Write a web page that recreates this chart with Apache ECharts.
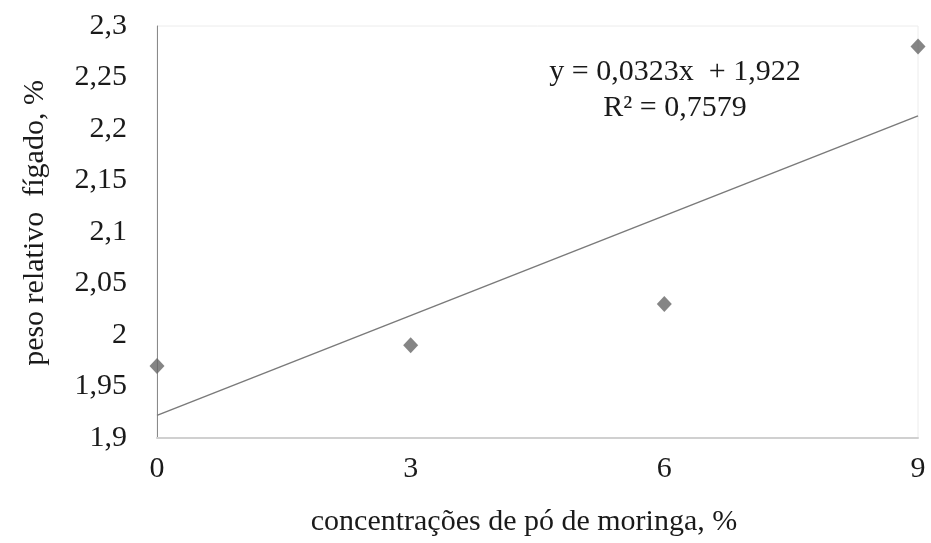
<!DOCTYPE html>
<html><head><meta charset="utf-8">
<script src="https://cdn.jsdelivr.net/npm/echarts@6/dist/echarts.min.js"></script>
<style>html,body{margin:0;padding:0;background:#fff}#c{width:931px;height:543px}</style>
</head><body><div id="c"></div>
<script>
var xValues = [0, 3, 6, 9];
var yValues = [1.97, 1.99, 2.03, 2.28];
var trendX = [0, 9];
var trendY = [1.922, 2.2127];
var xTicks = [0, 3, 6, 9];
var equationLines = ['y = 0,0323x  + 1,922', 'R² = 0,7579'];
var xTitle = 'concentrações de pó de moringa, %';
var yTitle = 'peso relativo  fígado, %';

var chart = echarts.init(document.getElementById('c'));
var font = 'Liberation Serif, Times New Roman, serif';
chart.setOption({
  animation: false,
  grid: {left: 157, right: 13, top: 26, bottom: 105, show: true, borderColor: '#ececec', borderWidth: 1,
         containLabel: false, outerBoundsMode: 'none'},
  xAxis: {
    type: 'value', min: 0, max: 9, interval: 3,
    axisLine: {show: true, lineStyle: {color: '#d0d0d0', width: 2}},
    axisTick: {show: false}, splitLine: {show: false},
    axisLabel: {color: '#1a1a1a', fontFamily: font, fontSize: 30, margin: 16,
      formatter: function(v){ return xTicks.indexOf(v) >= 0 ? String(v) : ''; }}
  },
  yAxis: {
    type: 'value', min: 1.9, max: 2.3, interval: 0.05,
    axisLine: {show: true, lineStyle: {color: '#8a8a8a', width: 1}},
    axisTick: {show: false}, splitLine: {show: false},
    axisLabel: {color: '#1a1a1a', fontFamily: font, fontSize: 30, margin: 30,
      formatter: function(v){ return String(+v.toFixed(2)).replace('.', ','); }}
  },
  series: [
    {type: 'line', data: trendX.map(function(x,i){return [x, trendY[i]];}),
     symbol: 'none', lineStyle: {color: '#7a7a7a', width: 1.5}, z: 2},
    {type: 'scatter', data: xValues.map(function(x,i){return [x, yValues[i]];}),
     symbol: 'diamond', symbolSize: [15, 16], itemStyle: {color: '#666666'}, z: 3, clip: false}
  ],
  graphic: [{
    type: 'text', x: 675, y: 54,
    style: {text: equationLines.join('\n'), fill: '#1a1a1a', font: '30px ' + font, textAlign: 'center', lineHeight: 36}
  }, {
    type: 'text', x: 524, y: 522,
    style: {text: xTitle, fill: '#1a1a1a', font: '30px ' + font, textAlign: 'center', textVerticalAlign: 'middle'}
  }, {
    type: 'text', x: 35, y: 223, rotation: Math.PI / 2,
    style: {text: yTitle, fill: '#1a1a1a', font: '30px ' + font, textAlign: 'center', textVerticalAlign: 'middle'}
  }]
});
</script></body></html>
